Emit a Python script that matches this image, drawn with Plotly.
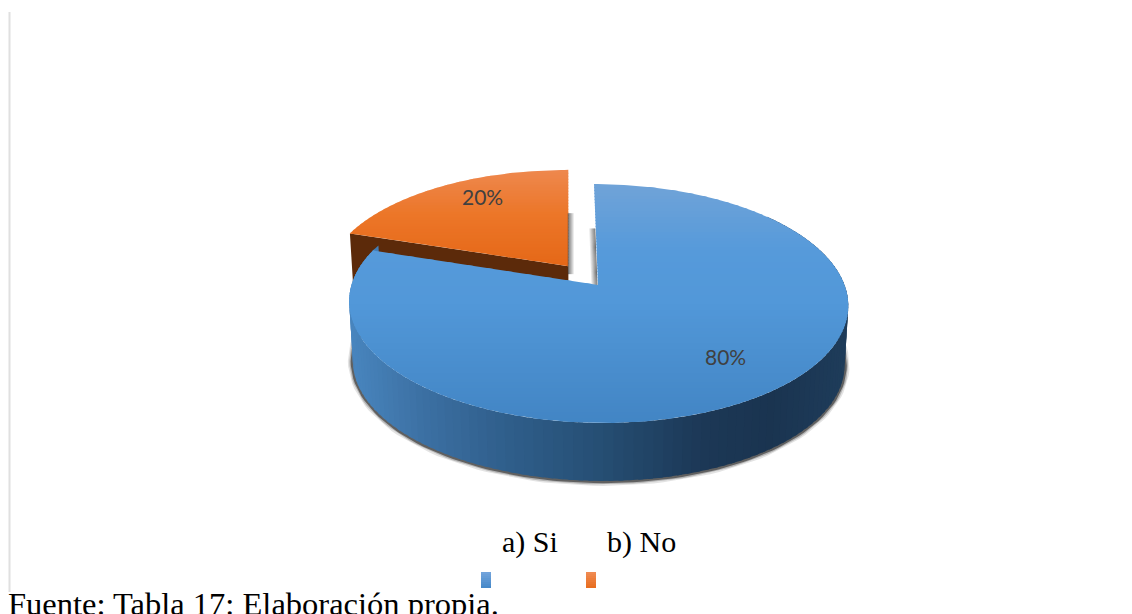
import math
import plotly.graph_objects as go

# data
categories = ["a) Si", "b) No"]
shares = [80, 20]
labels = ["80%", "20%"]
source_text = "Fuente: Tabla 17: Elaboración propia."

# pie geometry (pixels), perspective disk
CX, CY = 598, 285
A, B, C, K = 246.5, 116.6, 4.6, -0.155
DEPTH, LOWER = 60, 0.985
EXPLODE = 0.205

BLUE_TOP = [(184, (112, 163, 216)), (250, (86, 154, 218)), (300, (82, 152, 217)), (423, (66, 133, 196))]
ORANGE_TOP = [(170, (238, 136, 78)), (215, (236, 118, 40)), (265, (229, 104, 24))]
BLUE_SIDE = [(350, (72, 133, 190)), (420, (60, 112, 163)), (500, (48, 95, 140)), (600, (38, 78, 115)),
             (700, (28, 56, 86)), (770, (26, 52, 80)), (845, (30, 60, 90))]
BROWN = "rgb(92,42,10)"


def interp(stops, t):
    if t <= stops[0][0]:
        return stops[0][1]
    for (t0, c0), (t1, c1) in zip(stops, stops[1:]):
        if t <= t1:
            f = (t - t0) / (t1 - t0)
            return tuple(c0[i] + (c1[i] - c0[i]) * f for i in range(3))
    return stops[-1][1]


def rgb(c):
    return "rgb({},{},{})".format(*[int(round(v)) for v in c])


def project(u, v, lower=False):
    w = 1 + K * v
    x = CX + (A * u + C * v) / w
    y = CY + B * v / w
    if lower:
        x = CX + (x - CX) * LOWER
        y = CY + DEPTH + (y - CY) * LOWER
    return x, y


def disk(deg, r=1.0, off=(0, 0)):
    a = math.radians(deg)
    return off[0] + r * math.sin(a), off[1] - r * math.cos(a)


def wedge(start, end, off=(0, 0)):
    pts = [project(*off)]
    n = int(end - start)
    for i in range(n + 1):
        pts.append(project(*disk(start + (end - start) * i / n, off=off)))
    return pts


def clip(pts, y0, keep_below):
    out = []
    for (x1, y1), (x2, y2) in zip(pts, pts[1:] + pts[:1]):
        in1 = y1 >= y0 if keep_below else y1 <= y0
        in2 = y2 >= y0 if keep_below else y2 <= y0
        if in1:
            out.append((x1, y1))
        if in1 != in2:
            f = (y0 - y1) / (y2 - y1)
            out.append((x1 + (x2 - x1) * f, y0))
    return out


fig = go.Figure()


def poly(pts, color):
    xs = [p[0] for p in pts] + [pts[0][0]]
    ys = [p[1] for p in pts] + [pts[0][1]]
    fig.add_trace(go.Scatter(x=xs, y=ys, mode="lines", fill="toself", fillcolor=color,
                             line=dict(width=0), hoverinfo="skip", showlegend=False))


def line(pts, color, width):
    fig.add_trace(go.Scatter(x=[p[0] for p in pts], y=[p[1] for p in pts], mode="lines",
                             line=dict(color=color, width=width), hoverinfo="skip", showlegend=False))


# bands overlap the next one by a pixel so no seams show
def gradient_fill(pts, stops, step=3):
    y_min = min(p[1] for p in pts)
    y_max = max(p[1] for p in pts)
    y = y_min
    while y < y_max:
        band = clip(clip(pts, y, True), y + step + 1, False)
        if len(band) > 2:
            poly(band, rgb(interp(stops, y + step / 2)))
        y += step


# angles come from the shares, clockwise from the top
end_si = 360 * shares[0] / sum(shares)
mid_no = (end_si + 360) / 2
off_no = disk(mid_no, EXPLODE)

# orange slice: cut wall first, then top
apex_no = project(*off_no)
corner_no = project(*disk(end_si, off=off_no))
apex_low = project(*off_no, lower=True)
corner_low = project(*disk(end_si, off=off_no), lower=True)
poly([apex_no, corner_no, corner_low, apex_low], BROWN)
gradient_fill(wedge(end_si, 360, off_no), ORANGE_TOP)

# soft shadows in the gap between the slices
top_no = project(*disk(360, off=off_no))
top_si = project(*disk(0))
apex_si = project(0, 0)
for i in range(1, 7):
    alpha = 0.85 * (1 - i / 7)
    sx = top_no[0] + (apex_no[0] - top_no[0]) * 0.45 + i - 1
    sy = top_no[1] + (apex_no[1] - top_no[1]) * 0.45
    line([(sx, sy), (apex_no[0] + i - 1, apex_no[1] + 8)], "rgba(60,60,60,%.2f)" % alpha, 1)
    sx = top_si[0] + (apex_si[0] - top_si[0]) * 0.44 - i
    sy = top_si[1] + (apex_si[1] - top_si[1]) * 0.44
    line([(sx, sy), (apex_si[0] - i, apex_si[1])], "rgba(60,60,60,%.2f)" % alpha, 1)

# drop shadow under the blue slice
rim_low = [project(*disk(d), lower=True) for d in range(60, 292, 2)]
line(rim_low, "rgba(60,60,60,0.14)", 10)
line(rim_low, "rgba(60,60,60,0.28)", 7)
line(rim_low, "rgba(40,40,40,0.60)", 4.5)

# blue side wall, each strip runs under the next one
for d in range(50, 290, 2):
    t0, t1 = project(*disk(d)), project(*disk(d + 3))
    b0, b1 = project(*disk(d), lower=True), project(*disk(d + 3), lower=True)
    poly([t0, t1, b1, b0], rgb(interp(BLUE_SIDE, (t0[0] + t1[0]) / 2)))

# blue top
gradient_fill(wedge(0, end_si), BLUE_TOP)

# legend keys
gradient_fill([(481, 572), (491, 572), (491, 588), (481, 588)], [(572, (116, 165, 220)), (588, (68, 135, 200))], 2)
gradient_fill([(586, 572), (596, 572), (596, 588), (586, 588)], [(572, (240, 140, 85)), (588, (232, 108, 28))], 2)

annotations = [
    dict(x=725.5, y=356.5, text=labels[0], font=dict(family="Lato", size=21, color="#404040")),
    dict(x=482, y=196.5, text=labels[1], font=dict(family="Lato", size=21, color="#404040")),
    dict(x=529.5, y=541.5, text=categories[0], font=dict(family="Liberation Serif", size=30, color="#000000")),
    dict(x=641.5, y=541.5, text=categories[1], font=dict(family="Liberation Serif", size=30, color="#000000")),
    dict(x=6, y=604, text=source_text, xanchor="left", font=dict(family="Liberation Serif", size=32.5, color="#000000")),
]
for a in annotations:
    a.update(xref="x", yref="y", showarrow=False)

fig.update_layout(
    width=1132, height=614,
    margin=dict(l=0, r=0, t=0, b=0),
    paper_bgcolor="white", plot_bgcolor="white",
    xaxis=dict(range=[0, 1132], visible=False, fixedrange=True),
    yaxis=dict(range=[614, 0], visible=False, fixedrange=True),
    annotations=annotations,
    shapes=[dict(type="line", x0=9.5, x1=9.5, y0=12, y1=592, line=dict(color="#e0e0e0", width=2))],
)

fig.write_html("out.html", config=dict(displayModeBar=False),
               post_script="document.body.style.margin='0';document.body.style.overflow='hidden';")
